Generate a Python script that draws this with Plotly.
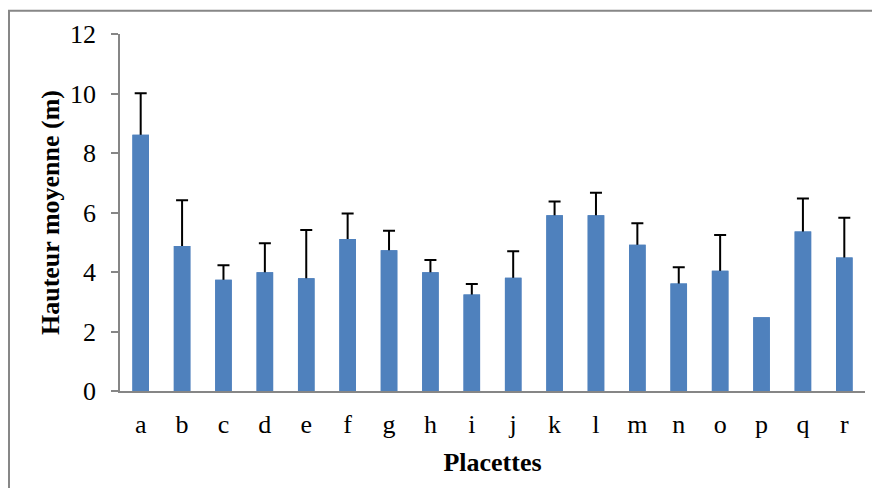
import plotly.graph_objects as go

categories = ["a", "b", "c", "d", "e", "f", "g", "h", "i", "j", "k", "l", "m", "n", "o", "p", "q", "r"]
hauteur = [8.61, 4.87, 3.74, 3.99, 3.79, 5.11, 4.73, 3.99, 3.24, 3.81, 5.91, 5.91, 4.92, 3.61, 4.04, 2.48, 5.36, 4.49]
erreur = [1.40, 1.54, 0.49, 0.98, 1.62, 0.86, 0.66, 0.41, 0.36, 0.89, 0.46, 0.75, 0.72, 0.55, 1.20, None, 1.11, 1.33]
y_ticks = [0, 2, 4, 6, 8, 10, 12]

BAR = "#4F81BD"
GRAY = "#868686"
FONT = "Liberation Serif"

err_plot = [e if e is not None else "NaN" for e in erreur]

fig = go.Figure()
# bars with (symmetric) error bars; the lower half is hidden by the overlay trace below
fig.add_trace(go.Bar(
    x=categories, y=hauteur, marker=dict(color=BAR, line=dict(width=0)),
    error_y=dict(type="data", array=err_plot, symmetric=True, color="black", thickness=2, width=6),
    showlegend=False, hoverinfo="skip",
))
fig.add_trace(go.Bar(
    x=categories, y=hauteur, marker=dict(color=BAR, line=dict(width=0)),
    showlegend=False,
))

fig.update_layout(
    width=880, height=488,
    barmode="overlay", bargap=0.6,
    paper_bgcolor="white", plot_bgcolor="white",
    margin=dict(l=112, r=23, t=23, b=105),
    font=dict(family=FONT, size=26, color="black"),
    xaxis=dict(
        showline=True, linecolor=GRAY, linewidth=1.5, ticks="", showgrid=False,
        tickfont=dict(family=FONT, size=26), ticklabelstandoff=9,
        title=dict(text="<b>Placettes</b>", font=dict(family=FONT, size=26), standoff=15),
    ),
    yaxis=dict(
        range=[0, 12], tickvals=y_ticks, showline=True, linecolor=GRAY, linewidth=1.5,
        ticks="outside", ticklen=7, tickcolor=GRAY, tickwidth=1.5, showgrid=False,
        zeroline=False, tickfont=dict(family=FONT, size=26), ticklabelstandoff=10,
        title=dict(text="<b>Hauteur moyenne (m)</b>", font=dict(family=FONT, size=26), standoff=3),
    ),
    shapes=[dict(type="rect", xref="paper", yref="paper",
                 x0=-0.149, x1=1.2, y0=-0.6, y1=1.065,
                 line=dict(color="#878787", width=2), layer="above")],
)

fig.write_html("out.html")
